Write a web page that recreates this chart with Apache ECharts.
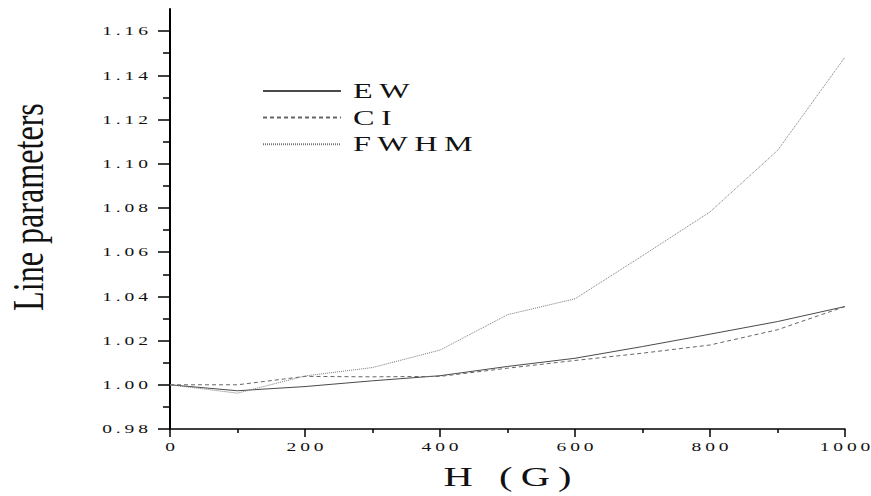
<!DOCTYPE html>
<html>
<head>
<meta charset="utf-8">
<script src="https://cdn.jsdelivr.net/npm/echarts@6/dist/echarts.min.js"></script>
<style>
html,body{margin:0;padding:0;background:#fff;}
#chart{width:871px;height:496px;}
</style>
</head>
<body>
<div id="chart"></div>
<script>
// ---- data ----
const hValues = [0, 100, 200, 300, 400, 500, 600, 700, 800, 900, 1000];
const ewValues = [1.000, 0.9973, 0.9992, 1.0018, 1.0041, 1.0083, 1.0120, 1.0173, 1.0229, 1.0286, 1.0354];
const ciValues = [1.000, 1.0000, 1.0038, 1.0036, 1.0038, 1.0075, 1.0110, 1.0143, 1.0180, 1.0249, 1.0354];
const fwhmValues = [1.000, 0.9962, 1.0040, 1.0078, 1.0157, 1.0317, 1.0389, 1.0584, 1.0782, 1.1060, 1.1482];
const seriesNames = ['EW', 'CI', 'FWHM'];
const yMajorTicks = [0.98, 1.00, 1.02, 1.04, 1.06, 1.08, 1.10, 1.12, 1.14, 1.16];
const yMinorTicks = [0.99, 1.01, 1.03, 1.05, 1.07, 1.09, 1.11, 1.13, 1.15];
const xTickLabels = ['0', '200', '400', '600', '800', '1000'];
const xTitle = 'H (G)';
const yTitle = 'Line parameters';

const pair = vals => hValues.map((h, i) => [h, vals[i]]);
const FONT = '"Liberation Serif", "Times New Roman", serif';
const STRETCH = 1.5;
const SPACING_EM = 0.2;

const chart = echarts.init(document.getElementById('chart'), null, {renderer: 'svg'});
const option = {
  animation: false,
  backgroundColor: '#fff',
  grid: {left: 170, right: 26, top: 9, bottom: 67, outerBoundsMode: 'none', containLabel: false},
  legend: {
    orient: 'vertical', left: 257, top: 75,
    itemWidth: 78, itemHeight: 22, itemGap: 4.6,
    data: seriesNames,
    itemStyle: {color: 'rgba(0,0,0,0)', borderColor: 'rgba(0,0,0,0)', borderWidth: 0, opacity: 0},
    textStyle: {fontFamily: FONT, fontSize: 21.5, color: '#111', padding: [0, 0, 0, 7]}
  },
  xAxis: {
    type: 'value', min: 0, max: 1000, interval: 200,
    name: xTitle, nameLocation: 'middle', nameGap: 34,
    nameTextStyle: {fontFamily: FONT, fontSize: 27, color: '#111'},
    axisLine: {show: true, lineStyle: {color: '#000', width: 1.5}},
    axisTick: {show: true, inside: false, length: 8, lineStyle: {color: '#000', width: 1.5}},
    minorTick: {show: true, splitNumber: 2, length: 4, lineStyle: {color: '#000', width: 1.5}},
    axisLabel: {margin: 11, fontFamily: FONT, fontSize: 13, color: '#111',
      formatter: v => xTickLabels[xTickLabels.indexOf(String(v))] || String(v)},
    splitLine: {show: false}, minorSplitLine: {show: false}
  },
  yAxis: [{
    type: 'value', min: 0.98, max: 1.17, interval: 0.02, position: 'left',
    axisLine: {show: true, lineStyle: {color: '#000', width: 2}},
    axisTick: {show: true, inside: false, length: 12, customValues: yMajorTicks, lineStyle: {color: '#000', width: 1.5}},
    axisLabel: {margin: 22, fontFamily: FONT, fontSize: 13, color: '#111', customValues: yMajorTicks,
      formatter: v => v.toFixed(2)},
    splitLine: {show: false}
  }, {
    type: 'value', min: 0.98, max: 1.17, position: 'left', offset: 0,
    axisLine: {show: false},
    axisTick: {show: true, inside: false, length: 7, customValues: yMinorTicks, lineStyle: {color: '#000', width: 1.5}},
    axisLabel: {show: false},
    splitLine: {show: false}
  }],
  graphic: [{
    type: 'text', x: 28, y: 207, rotation: Math.PI / 2, scaleX: 0.73, scaleY: 1,
    style: {text: yTitle, fontFamily: FONT, fontSize: 44, fill: '#111',
      align: 'center', verticalAlign: 'middle', textAlign: 'center', textVerticalAlign: 'middle'}
  }],
  series: [
    {name: seriesNames[0], type: 'line', data: pair(ewValues), symbol: 'none', showSymbol: false,
      lineStyle: {color: '#4a4a4a', width: 1, type: 'solid'}, itemStyle: {color: '#4a4a4a'}},
    {name: seriesNames[1], type: 'line', data: pair(ciValues), symbol: 'none', showSymbol: false,
      lineStyle: {color: '#666', width: 1, type: [4, 3]}, itemStyle: {color: '#666'}},
    {name: seriesNames[2], type: 'line', data: pair(fwhmValues), symbol: 'none', showSymbol: false,
      lineStyle: {color: '#777', width: 1, type: [1, 1]}, itemStyle: {color: '#777'}}
  ]
};
chart.setOption(option);

// The reference uses horizontally stretched, letter-spaced type: emulate it on the SVG text
// (spacing only between characters, so no trailing gap shifts the anchor).
function fixTexts() {
  document.querySelectorAll('#chart text').forEach(t => {
    if (t.getAttribute('data-fixed')) return;
    const s = t.textContent;
    if (s.trim() === yTitle) return;
    const fs = parseFloat(getComputedStyle(t).fontSize) || 13;
    const gap = (fs * SPACING_EM).toFixed(2);
    const dx = Array.from(s).map((c, i) => i === 0 ? '0' : gap).join(' ');
    t.setAttribute('dx', dx);
    const x = parseFloat(t.getAttribute('x') || 0), y = parseFloat(t.getAttribute('y') || 0);
    const tr = t.getAttribute('transform') || '';
    t.setAttribute('transform', tr + ' translate(' + x + ' ' + y + ') scale(' + STRETCH + ' 1) translate(' + (-x) + ' ' + (-y) + ')');
    t.setAttribute('data-fixed', '1');
  });
}
fixTexts();
chart.on('finished', fixTexts);
setTimeout(fixTexts, 30);
setTimeout(fixTexts, 200);
</script>
</body>
</html>
